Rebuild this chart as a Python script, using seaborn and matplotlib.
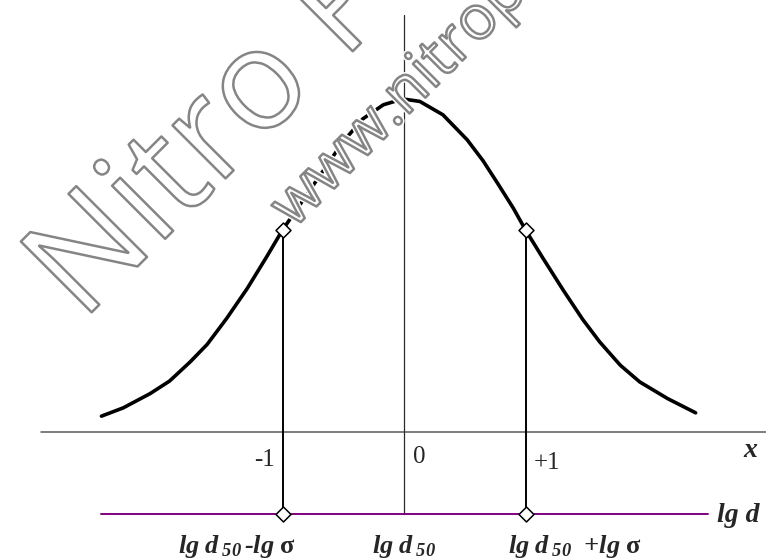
import matplotlib
matplotlib.use("Agg")
import matplotlib.pyplot as plt
import matplotlib.patheffects as pe
import pandas as pd
import seaborn as sns

# Normal distribution of lg d, abscissa in units of lg sigma
z_left = [-2.49, -2.31, -2.09, -1.93, -1.76, -1.62, -1.46, -1.29, -1.13, -1.00,
          -0.83, -0.67, -0.50, -0.34, -0.17, -0.01]
dens_left = [0.019, 0.029, 0.046, 0.061, 0.084, 0.105, 0.136, 0.172, 0.210, 0.242,
             0.278, 0.312, 0.348, 0.375, 0.392, 0.399]
z_right = [0.13, 0.32, 0.52, 0.65, 0.77, 0.90, 1.00, 1.14, 1.31, 1.47, 1.61,
           1.78, 1.94, 2.17, 2.40]
dens_right = [0.396, 0.380, 0.350, 0.325, 0.298, 0.268, 0.242, 0.209, 0.170, 0.135,
              0.108, 0.080, 0.060, 0.040, 0.023]

sigma_z = [-1.0, 1.0]
sigma_dens = [0.242, 0.242]

tick_labels = ["-1", "0", "+1"]
scale_labels = [
    r"$\mathbfit{lg\ d}_{\;\mathbfit{50}}\,\mathbfit{‐lg}\ \mathbf{\sigma}$",
    r"$\mathbfit{lg\ d}_{\;\mathbfit{50}}$",
    r"$\mathbfit{lg\ d}_{\;\mathbfit{50}}\ \ \mathbfit{+lg}\ \mathbf{\sigma}$",
]

curve = pd.DataFrame({"z": z_left + z_right, "density": dens_left + dens_right})
marks = pd.DataFrame({"z": sigma_z, "density": sigma_dens})

sns.set_theme(style="white")
plt.rcParams["font.family"] = ["Liberation Serif", "DejaVu Sans"]
plt.rcParams.update({
    "mathtext.fontset": "custom",
    "mathtext.rm": "Liberation Serif",
    "mathtext.it": "Liberation Serif:italic",
    "mathtext.bf": "Liberation Serif:bold",
    "mathtext.bfit": "Liberation Serif:italic:bold",
})

fig = plt.figure(figsize=(7.66, 5.59), dpi=100)
ax = fig.add_axes([0, 0, 1, 1])
ax.axis("off")

scale_y = -0.098  # level of the lg d scale line

# axes and guide lines
ax.plot([-2.99, 2.99], [0, 0], color="#5a5a5a", lw=1.1, zorder=1)
ax.plot([0, 0], [0.4995, scale_y], color="#2a2a2a", lw=0.9, zorder=1)
ax.plot([-2.494, 2.502], [scale_y, scale_y], color="#800080", lw=1.4, zorder=1)
for zz, dd in zip(sigma_z, sigma_dens):
    ax.plot([zz, zz], [dd, scale_y], color="black", lw=1.4, zorder=2)

# the distribution curve
sns.lineplot(data=curve, x="z", y="density", sort=False, color="black",
             lw=2.6, ax=ax, zorder=3)

# diamond markers on the curve and on the lg d scale
sns.scatterplot(data=marks, x="z", y="density", marker="D", s=58,
                color="white", edgecolor="black", linewidth=1.1, ax=ax, zorder=4)
sns.scatterplot(x=sigma_z, y=[scale_y] * len(sigma_z), marker="D", s=58,
                color="white", edgecolor="black", linewidth=1.1, ax=ax, zorder=4)
ax.set_xlim(-3.325, 2.979)
ax.set_ylim(-0.1521, 0.5175)

# tick values on the x axis
ax.text(-1.062, -0.0335, tick_labels[0], ha="right", va="center", fontsize=18)
ax.text(0.074, -0.030, tick_labels[1], ha="left", va="center", fontsize=18)
ax.text(1.07, -0.037, tick_labels[2], ha="left", va="center", fontsize=18)

ax.text(2.79, -0.0216, "x", ha="left", va="center", fontsize=20,
        fontweight="bold", fontstyle="italic")
ax.text(2.576, -0.0994, "lg d", ha="left", va="center", fontsize=20,
        fontweight="bold", fontstyle="italic")

for xx, lab in zip([-1.374, 0.0, 1.407], scale_labels):
    ax.text(xx, -0.1366, lab, ha="center", va="center", fontsize=19)

# outlined watermark text
wm_effects = [pe.Stroke(linewidth=4.0, foreground="white"),
              pe.Stroke(linewidth=1.8, foreground="#858585")]
fig.text(82 / 766, 1 - 322 / 559, "Nitro PDF", family="Open Sans", fontsize=101,
         rotation=45, rotation_mode="anchor", ha="left", va="baseline",
         color="none", path_effects=wm_effects, zorder=10)
fig.text(294 / 766, 1 - 229 / 559, "www.nitropdf.com", family="Open Sans",
         fontsize=44, rotation=45, rotation_mode="anchor", ha="left",
         va="baseline", color="none", path_effects=wm_effects, zorder=10)

fig.savefig("out.png", dpi=100)
